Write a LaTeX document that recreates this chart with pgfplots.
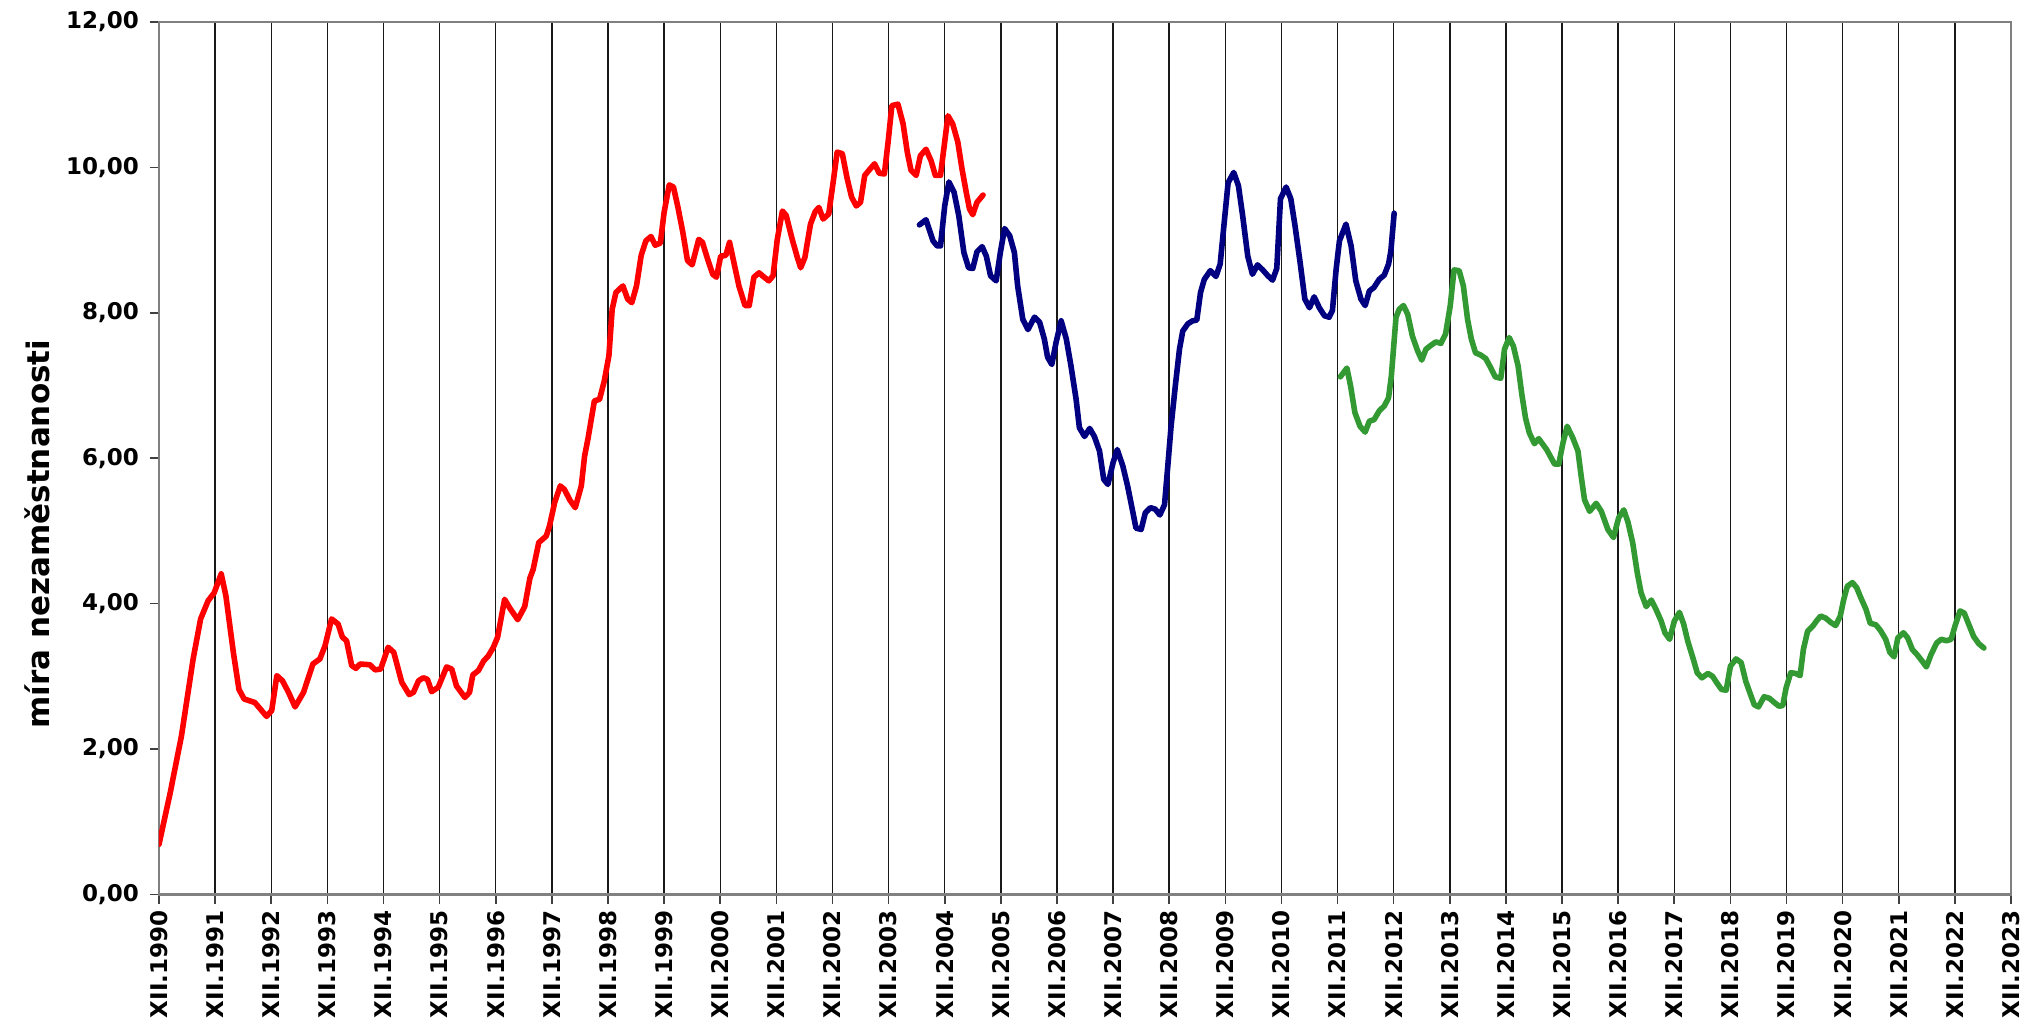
\documentclass[border=0pt]{standalone}
\usepackage{fontspec}
\setmainfont{DejaVu Sans}
\usepackage{pgfplots}
\pgfplotsset{compat=1.18}
\definecolor{oldred}{HTML}{FF0000}
\definecolor{newblue}{HTML}{000080}
\definecolor{podilgreen}{HTML}{339933}

\begin{document}
\begin{tikzpicture}
\useasboundingbox (-79.5pt,-61.75pt) rectangle (936.5pt,447.25pt);
\begin{axis}[
  at={(0,0)}, anchor=south west,
  scale only axis, width=926pt, height=436.25pt,
  xmin=0, xmax=396, ymin=0, ymax=12,
  xtick={0,12,...,396},
  xticklabels={XII.1990,XII.1991,XII.1992,XII.1993,XII.1994,XII.1995,XII.1996,XII.1997,XII.1998,XII.1999,XII.2000,XII.2001,XII.2002,XII.2003,XII.2004,XII.2005,XII.2006,XII.2007,XII.2008,XII.2009,XII.2010,XII.2011,XII.2012,XII.2013,XII.2014,XII.2015,XII.2016,XII.2017,XII.2018,XII.2019,XII.2020,XII.2021,XII.2022,XII.2023},
  ytick={0,2,...,12},
  xtick pos=bottom, ytick pos=left,
  tick align=outside, major tick length=4.5pt,
  tick style={black!75, line width=0.8pt},
  xmajorgrids, grid style={black!90, line width=0.7pt},
  axis line style={black!50, line width=1.1pt},
  /pgf/number format/.cd, fixed, fixed zerofill, precision=2, use comma, assume math mode=true,
  /pgfplots/.cd,
  yticklabel style={font=\bfseries\fontsize{11.5}{11.5}\selectfont, xshift=-2pt},
  xticklabel style={rotate=90, anchor=east, font=\bfseries\fontsize{11.5}{11.5}\selectfont},
  ylabel={míra nezaměstnanosti},
  ylabel style={at={(axis description cs:-0.0656,0.413)}, anchor=center,
                font=\bfseries\fontsize{15.5}{15.5}\selectfont},
  every axis plot/.append style={line width=2.8pt, line join=round, line cap=round},
]
% stara metodika (MRN)
\addplot[oldred] coordinates {
(0,0.69)(2.4,1.40)(4.8,2.18)(7.3,3.24)(8.9,3.79)(10.5,4.04)(11.8,4.15)(13.3,4.41)(14.3,4.11)
(15.9,3.33)(17.1,2.82)(18.2,2.69)(20.5,2.64)(23.0,2.45)(24.1,2.53)(25.2,3.01)(26.4,2.94)
(27.7,2.78)(29.1,2.58)(30.9,2.78)(32.9,3.17)(34.4,3.24)(35.5,3.42)(36.9,3.79)(38.3,3.72)
(39.2,3.54)(40.1,3.49)(41.2,3.15)(42.1,3.11)(43.0,3.17)(45.1,3.16)(46.2,3.09)(47.4,3.10)
(49.0,3.40)(50.2,3.33)(51.9,2.92)(53.5,2.75)(54.4,2.78)(55.5,2.94)(56.5,2.98)(57.4,2.96)
(58.3,2.79)(59.7,2.85)(61.5,3.13)(62.6,3.10)(63.6,2.87)(65.4,2.71)(66.4,2.78)(67.1,3.02)
(68.3,3.08)(69.4,3.21)(70.4,3.28)(71.5,3.40)(72.4,3.54)
(73.9,4.06)(75.0,3.94)(76.7,3.78)(78.2,3.96)(79.3,4.35)(80.0,4.47)(81.2,4.84)(82.8,4.93)
(83.5,5.07)(84.6,5.39)(85.8,5.62)(86.7,5.57)(87.8,5.43)(89.0,5.32)(90.3,5.62)(91.0,6.03)
(91.7,6.26)(93.1,6.79)(94.2,6.81)(95.2,7.06)(96.2,7.41)(96.9,8.05)(97.7,8.28)(99.2,8.37)
(100.2,8.19)(101.1,8.14)(102.1,8.37)(103.1,8.79)(104.1,8.99)(105.2,9.05)(106.1,8.93)
(107.2,8.96)(108.0,9.38)(109.1,9.76)(110.0,9.73)(110.9,9.47)(112.0,9.11)(113.0,8.72)
(114.0,8.66)(115.4,9.01)(116.2,8.97)(117.3,8.74)(118.4,8.53)(119.2,8.49)(120.1,8.78)
(121.2,8.79)(122.0,8.97)(123.0,8.67)(124.0,8.37)(125.3,8.10)(126.2,8.10)(127.2,8.49)
(128.3,8.55)(129.4,8.49)(130.4,8.44)(131.3,8.51)(132.2,9.01)(133.3,9.40)(134.1,9.34)
(135.4,9.01)(136.5,8.76)(137.2,8.62)(138.1,8.76)(139.3,9.22)(140.3,9.39)(141.1,9.45)
(142.0,9.29)(143.2,9.36)(144.2,9.82)(145.0,10.21)(146.1,10.19)(147.1,9.86)(148.1,9.59)
(149.1,9.47)(150.0,9.52)(150.9,9.89)(151.8,9.96)(153.0,10.05)(154.0,9.92)(155.1,9.91)
(155.9,10.35)(156.7,10.85)(158.0,10.87)(159.1,10.60)(160.0,10.21)(160.8,9.96)(161.9,9.89)
(162.8,10.16)(164.0,10.25)(165.1,10.09)(166.0,9.89)(167.1,9.89)(167.8,10.25)(168.7,10.71)
(169.7,10.60)(170.8,10.35)(171.7,9.98)(172.6,9.66)(173.3,9.43)(174.0,9.35)(174.9,9.52)
(176.2,9.62)
};
% nova metodika (MRN)
\addplot[newblue] coordinates {
(162.6,9.21)(164.0,9.28)(165.5,8.99)(166.4,8.92)(167.1,8.92)(168.0,9.47)(168.9,9.80)
(170.0,9.66)(171.0,9.34)(172.1,8.83)(173.1,8.62)(174.0,8.61)(174.9,8.84)(176.0,8.91)
(176.9,8.78)(177.8,8.51)(179.0,8.44)(179.9,8.83)(180.8,9.16)(181.9,9.06)(182.9,8.83)
(183.6,8.37)(184.7,7.91)(185.8,7.77)(187.2,7.94)(188.3,7.87)(189.3,7.64)(190.0,7.39)
(190.9,7.29)(191.8,7.59)(192.9,7.89)(194.0,7.64)(195.0,7.27)(196.1,6.81)(196.8,6.42)
(197.9,6.30)(199.0,6.41)(200.0,6.30)(201.1,6.10)(202.0,5.71)(202.9,5.64)(204.0,5.94)
(204.9,6.12)(206.1,5.89)(207.1,5.62)(208.1,5.30)(208.9,5.04)(210.0,5.02)(210.9,5.25)
(212.0,5.32)(213.0,5.30)(214.0,5.22)(215.0,5.36)(215.7,5.89)(216.4,6.44)(217.3,6.99)
(218.2,7.50)(218.9,7.75)(220.0,7.85)(221.0,7.89)(221.9,7.90)(222.7,8.28)(223.5,8.46)
(224.8,8.58)(226.0,8.50)(226.9,8.67)(227.7,9.20)(228.6,9.79)(229.8,9.93)(230.8,9.75)
(231.7,9.34)(232.8,8.78)(233.8,8.53)(234.9,8.66)(236.0,8.59)(237.1,8.51)(238.1,8.45)
(239.0,8.61)(239.8,9.57)(241.0,9.73)(242.0,9.57)(242.9,9.20)(244.0,8.69)(245.0,8.19)
(246.0,8.07)(247.0,8.22)(248.1,8.07)(249.2,7.96)(250.2,7.94)(250.9,8.03)(251.7,8.60)
(252.4,8.99)(253.8,9.22)(254.9,8.92)(255.9,8.44)(257.0,8.19)(257.9,8.10)(258.8,8.30)
(259.8,8.35)(260.9,8.46)(262.0,8.52)(262.9,8.67)(263.4,8.85)(264.1,9.37)
};
% podil nezamestnanych osob
\addplot[podilgreen] coordinates {
(252.6,7.12)(254.0,7.24)(254.8,6.99)(255.7,6.63)(256.8,6.44)(257.9,6.36)(258.8,6.51)
(259.8,6.53)(260.9,6.65)(262.0,6.72)(262.9,6.83)(263.5,7.13)(264.5,7.94)(265.2,8.05)
(266.1,8.10)(267.0,7.98)(268.0,7.68)(269.1,7.48)(270.0,7.35)(270.9,7.50)(271.9,7.55)
(273.0,7.60)(274.1,7.58)(275.1,7.71)(276.1,8.10)(276.9,8.59)(278.0,8.58)(278.9,8.37)
(279.8,7.91)(280.6,7.64)(281.5,7.45)(282.6,7.42)(283.7,7.37)(284.7,7.25)(285.7,7.12)
(286.9,7.10)(287.7,7.50)(288.7,7.66)(289.6,7.54)(290.6,7.27)(291.4,6.88)(292.2,6.55)
(293.0,6.35)(294.1,6.20)(295.0,6.27)(296.7,6.12)(298.4,5.92)(299.3,5.92)(300.2,6.21)
(301.1,6.44)(302.3,6.28)(303.4,6.10)(304.1,5.75)(304.8,5.43)(305.9,5.27)(307.3,5.38)
(308.4,5.27)(309.8,5.02)(311.0,4.91)(312.1,5.18)(313.2,5.29)(314.1,5.12)(315.1,4.84)
(316.1,4.42)(316.9,4.15)(318.0,3.96)(319.1,4.05)(320.1,3.92)(321.2,3.76)(322.0,3.60)
(323.0,3.51)(324.0,3.76)(325.1,3.88)(326.0,3.72)(326.9,3.48)(328.0,3.25)(328.9,3.05)
(329.9,2.98)(331.2,3.04)(332.2,3.00)(333.1,2.91)(334.1,2.82)(335.1,2.81)(336.0,3.14)
(337.2,3.24)(338.3,3.19)(339.3,2.93)(340.3,2.75)(341.1,2.61)(342.0,2.58)(343.2,2.72)
(344.3,2.70)(345.4,2.64)(346.4,2.59)(347.2,2.60)(347.9,2.84)(348.9,3.05)(350.0,3.04)
(350.9,3.01)(351.6,3.37)(352.5,3.62)(353.6,3.69)(354.5,3.77)(355.3,3.83)(356.4,3.80)
(357.5,3.74)(358.5,3.70)(359.5,3.83)(360.2,4.05)(361.0,4.24)(362.1,4.29)(363.0,4.22)
(363.9,4.08)(365.0,3.92)(365.9,3.73)(367.1,3.71)(368.1,3.63)(369.2,3.51)(370.1,3.33)
(371.0,3.27)(371.8,3.53)(373.0,3.60)(373.9,3.53)(374.9,3.37)(375.9,3.30)(377.0,3.21)
(377.9,3.13)(378.9,3.30)(380.1,3.46)(381.1,3.51)(382.2,3.49)(383.2,3.51)(384.1,3.71)
(385.1,3.90)(386.0,3.87)(387.0,3.71)(388.0,3.55)(389.1,3.45)(390.2,3.39)
};
\end{axis}
\end{tikzpicture}
\end{document}
